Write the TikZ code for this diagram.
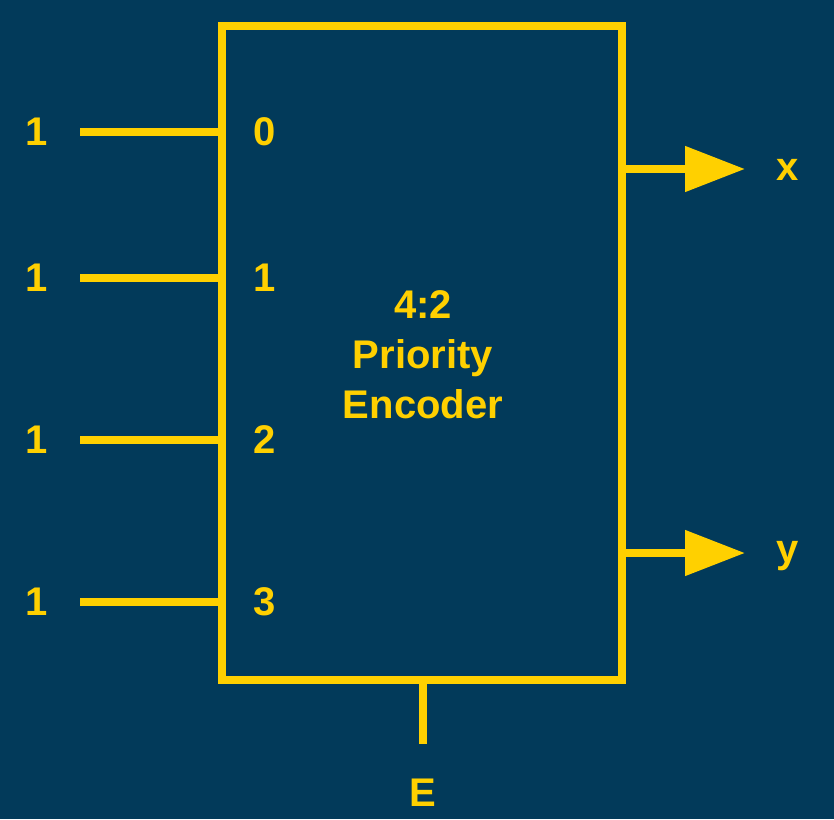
\documentclass[tikz,border=0pt]{standalone}
\usepackage{fontspec}
\setmainfont{Liberation Sans}
\usetikzlibrary{arrows.meta}
\definecolor{bgblue}{HTML}{023A5A}
\definecolor{ylw}{HTML}{FFD000}
\begin{document}
\begin{tikzpicture}[x=1pt,y=-1pt,
  wire/.style={draw=ylw,line width=8pt},
  lbl/.style={text=ylw,font=\fontsize{40}{50}\selectfont\bfseries,inner sep=0pt},
  outarrow/.style={wire,-{Triangle[length=60pt,width=44pt]}}]
\useasboundingbox[fill=bgblue] (0,0) rectangle (834,819);
\node[draw=ylw,line width=8pt,minimum width=400pt,minimum height=654pt,inner sep=0pt] (box) at (422,353) {};
\node[lbl,align=center] (title) at (423,355) {4:2\\Priority\\Encoder};
% inputs
\foreach \i/\y in {0/132,1/278,2/440,3/602}{
  \coordinate (s\i) at (80,\y);
  \node[lbl] (v\i) at (37,\y) {1};
  \node[lbl] (p\i) at (265,\y) {\i};
  \draw[wire] (s\i) -- (box.west |- s\i);
}
% outputs
\coordinate (tx) at (745,169);
\coordinate (ty) at (745,553);
\draw[outarrow] (box.east |- tx) -- (tx);
\draw[outarrow] (box.east |- ty) -- (ty);
\node[lbl] (x) at (788,170) {x};
\node[lbl] (y) at (788,556) {y};
% enable
\coordinate (te) at (423,744);
\draw[wire] (box.south -| te) -- (te);
\node[lbl] (e) at (423,793) {E};
\end{tikzpicture}
\end{document}
